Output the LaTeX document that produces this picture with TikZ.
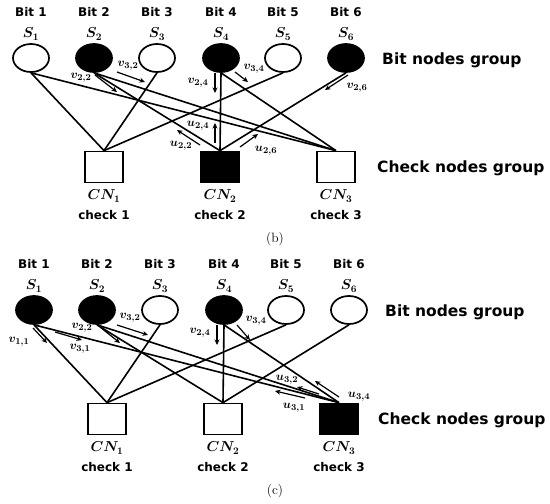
\documentclass[tikz,border=0pt]{standalone}
\usepackage{fontspec}
\setsansfont{DejaVu Sans}
\usetikzlibrary{arrows.meta,shapes.geometric}
\tikzset{
 bit/.style={ellipse, draw, line width=1.7pt, minimum width=36pt, minimum height=28pt, inner sep=0pt},
 bitfill/.style={bit, fill=black},
 chk/.style={rectangle, draw, line width=1.7pt, minimum width=38pt, minimum height=31pt, inner sep=0pt},
 chkfill/.style={chk, fill=black},
 lbl/.style={font=\sffamily\bfseries\fontsize{12}{14}\selectfont, inner sep=0pt},
 grp/.style={font=\sffamily\bfseries\fontsize{15.5}{18}\selectfont, anchor=west, inner sep=0pt},
 mth/.style={font=\fontsize{14}{16}\selectfont\boldmath, inner sep=0pt},
 tanner/.style={line width=1.6pt},
 msg/.style={line width=1.2pt, -{Stealth[length=5.5pt,width=5pt]}},
 ml/.style={font=\fontsize{13}{15}\selectfont\boldmath, inner sep=0pt},
 figcap/.style={font=\fontsize{13.5}{15}\selectfont, inner sep=0pt},
}
\begin{document}
\begin{tikzpicture}[x=1pt,y=-1pt]
\useasboundingbox (0,0) rectangle (550,504);
% ---------------- (b) ----------------
\node[bit] (a1) at (31,58) {};
\node[bitfill] (a2) at (94,58) {};
\node[bit] (a3) at (157,58) {};
\node[bitfill] (a4) at (221,58) {};
\node[bit] (a5) at (283,58) {};
\node[bitfill] (a6) at (346,58) {};
\node[lbl] (ab1) at (31,12) {Bit 1};
\node[lbl] (ab2) at (94,12) {Bit 2};
\node[lbl] (ab3) at (157,12) {Bit 3};
\node[lbl] (ab4) at (221,12) {Bit 4};
\node[lbl] (ab5) at (283,12) {Bit 5};
\node[lbl] (ab6) at (346,12) {Bit 6};
\node[mth] (as1) at (31,34) {$S_1$};
\node[mth] (as2) at (94,34) {$S_2$};
\node[mth] (as3) at (157,34) {$S_3$};
\node[mth] (as4) at (221,34) {$S_4$};
\node[mth] (as5) at (283,34) {$S_5$};
\node[mth] (as6) at (346,34) {$S_6$};
\node[chk] (ac1) at (104,167) {};
\node[chkfill] (ac2) at (220,167) {};
\node[chk] (ac3) at (336,167) {};
\node[mth] (acn1) at (104,196) {$CN_1$};
\node[mth] (acn2) at (220,196) {$CN_2$};
\node[mth] (acn3) at (336,196) {$CN_3$};
\node[lbl] (ack1) at (104,215) {check 1};
\node[lbl] (ack2) at (220,215) {check 2};
\node[lbl] (ack3) at (336,215) {check 3};
\draw[tanner] (a1.south) -- (ac1.north);
\draw[tanner] (a1.south) -- (ac3.north);
\draw[tanner] (a2.south) -- (ac2.north);
\draw[tanner] (a2.south) -- (ac3.north);
\draw[tanner] (a3.south) -- (ac1.north);
\draw[tanner] (a4.south) -- (ac2.north);
\draw[tanner] (a4.south) -- (ac3.north);
\draw[tanner] (a5.south) -- (ac1.north);
\draw[tanner] (a6.south) -- (ac2.north);
\node[grp] (agb) at (382,60) {Bit nodes group};
\node[grp] (agc) at (377,168) {Check nodes group};
\node[figcap] (capb) at (275,239) {(b)};
% messages (b)
\path (95,75) coordinate (p1a) (117,92) coordinate (p1b)
      (117,72) coordinate (p2a) (145,82) coordinate (p2b)
      (215,73) coordinate (p3a) (215,93) coordinate (p3b)
      (235,72) coordinate (p4a) (248,82) coordinate (p4b)
      (348,75) coordinate (p5a) (325,90) coordinate (p5b)
      (215,143) coordinate (p6a) (215,123) coordinate (p6b)
      (200,145) coordinate (p7a) (177,130) coordinate (p7b)
      (240,147) coordinate (p8a) (258,134) coordinate (p8b);
\draw[msg] (p1a) -- (p1b);
\draw[msg] (p2a) -- (p2b);
\draw[msg] (p3a) -- (p3b);
\draw[msg] (p4a) -- (p4b);
\draw[msg] (p5a) -- (p5b);
\draw[msg] (p6a) -- (p6b);
\draw[msg] (p7a) -- (p7b);
\draw[msg] (p8a) -- (p8b);
\node[ml] (lv22) at (81,78) {$v_{2,2}$};
\node[ml] (lv32) at (128,66) {$v_{3,2}$};
\node[ml] (lv24) at (198,83) {$v_{2,4}$};
\node[ml] (lv34) at (254,69) {$v_{3,4}$};
\node[ml] (lv26) at (357,88) {$v_{2,6}$};
\node[ml] (lu24) at (198,126) {$u_{2,4}$};
\node[ml] (lu22) at (181,146) {$u_{2,2}$};
\node[ml] (lu26) at (266,151) {$u_{2,6}$};
% ---------------- (c) ----------------
\begin{scope}[shift={(3,252)}]
\node[bitfill] (b1) at (31,58) {};
\node[bitfill] (b2) at (94,58) {};
\node[bit] (b3) at (157,58) {};
\node[bitfill] (b4) at (221,58) {};
\node[bit] (b5) at (283,58) {};
\node[bit] (b6) at (346,58) {};
\node[lbl] (bb1) at (31,12) {Bit 1};
\node[lbl] (bb2) at (94,12) {Bit 2};
\node[lbl] (bb3) at (157,12) {Bit 3};
\node[lbl] (bb4) at (221,12) {Bit 4};
\node[lbl] (bb5) at (283,12) {Bit 5};
\node[lbl] (bb6) at (346,12) {Bit 6};
\node[mth] (bs1) at (31,34) {$S_1$};
\node[mth] (bs2) at (94,34) {$S_2$};
\node[mth] (bs3) at (157,34) {$S_3$};
\node[mth] (bs4) at (221,34) {$S_4$};
\node[mth] (bs5) at (283,34) {$S_5$};
\node[mth] (bs6) at (346,34) {$S_6$};
\node[chk] (bc1) at (104,167) {};
\node[chk] (bc2) at (220,167) {};
\node[chkfill] (bc3) at (336,167) {};
\node[mth] (bcn1) at (104,196) {$CN_1$};
\node[mth] (bcn2) at (220,196) {$CN_2$};
\node[mth] (bcn3) at (336,196) {$CN_3$};
\node[lbl] (bck1) at (104,215) {check 1};
\node[lbl] (bck2) at (220,215) {check 2};
\node[lbl] (bck3) at (336,215) {check 3};
\draw[tanner] (b1.south) -- (bc1.north);
\draw[tanner] (b1.south) -- (bc3.north);
\draw[tanner] (b2.south) -- (bc2.north);
\draw[tanner] (b2.south) -- (bc3.north);
\draw[tanner] (b3.south) -- (bc1.north);
\draw[tanner] (b4.south) -- (bc2.north);
\draw[tanner] (b4.south) -- (bc3.north);
\draw[tanner] (b5.south) -- (bc1.north);
\draw[tanner] (b6.south) -- (bc2.north);
\node[grp] (bgb) at (382,60) {Bit nodes group};
\node[grp] (bgc) at (375,168) {Check nodes group};
\end{scope}
\node[figcap] (capc) at (275,491) {(c)};
% messages (c)
\path (33,328) coordinate (q1a) (47,343) coordinate (q1b)
      (55,332) coordinate (q2a) (82,340) coordinate (q2b)
      (100,327) coordinate (q3a) (120,343) coordinate (q3b)
      (117,325) coordinate (q4a) (148,335) coordinate (q4b)
      (217,325) coordinate (q5a) (217,345) coordinate (q5b)
      (237,325) coordinate (q6a) (250,340) coordinate (q6b)
      (319,394) coordinate (q7a) (297,387) coordinate (q7b)
      (305,398) coordinate (q8a) (275,391) coordinate (q8b)
      (339,397) coordinate (q9a) (315,381) coordinate (q9b);
\draw[msg] (q1a) -- (q1b);
\draw[msg] (q2a) -- (q2b);
\draw[msg] (q3a) -- (q3b);
\draw[msg] (q4a) -- (q4b);
\draw[msg] (q5a) -- (q5b);
\draw[msg] (q6a) -- (q6b);
\draw[msg] (q7a) -- (q7b);
\draw[msg] (q8a) -- (q8b);
\draw[msg] (q9a) -- (q9b);
\node[ml] (lv11) at (19,342) {$v_{1,1}$};
\node[ml] (lv31) at (80,349) {$v_{3,1}$};
\node[ml] (lv22c) at (82,328) {$v_{2,2}$};
\node[ml] (lv32c) at (130,318) {$v_{3,2}$};
\node[ml] (lv24c) at (200,333) {$v_{2,4}$};
\node[ml] (lv34c) at (256,321) {$v_{3,4}$};
\node[ml] (lu32) at (287,380) {$u_{3,2}$};
\node[ml] (lu31) at (294,408) {$u_{3,1}$};
\node[ml] (lu34) at (359,397) {$u_{3,4}$};
\end{tikzpicture}
\end{document}
